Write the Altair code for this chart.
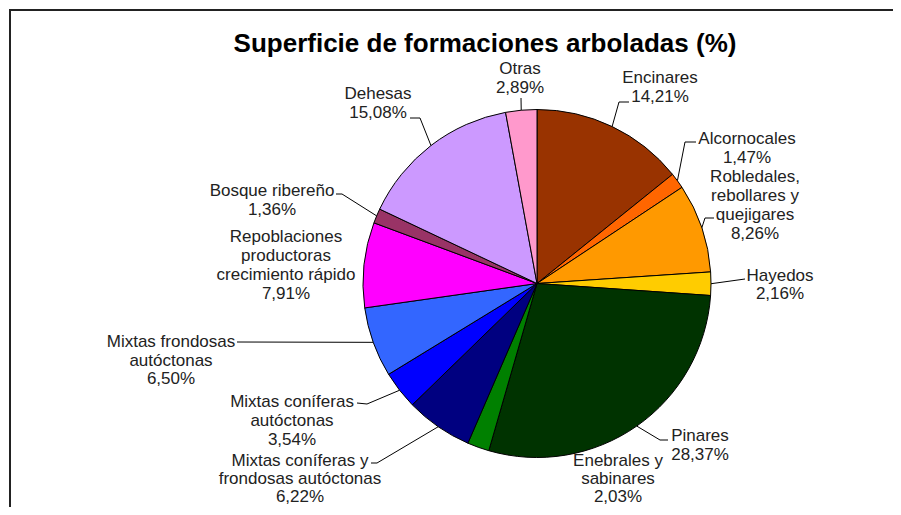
import altair as alt
import pandas as pd
import numpy as np

# ---- data ----
names = [
    "Encinares", "Alcornocales", "Robledales, rebollares y quejigares", "Hayedos",
    "Pinares", "Enebrales y sabinares", "Mixtas coníferas y frondosas autóctonas",
    "Mixtas coníferas autóctonas", "Mixtas frondosas autóctonas",
    "Repoblaciones productoras crecimiento rápido", "Bosque ribereño", "Dehesas", "Otras",
]
values = [14.21, 1.47, 8.26, 2.16, 28.37, 2.03, 6.22, 3.54, 6.50, 7.91, 1.36, 15.08, 2.89]
name_lines = [
    ["Encinares"], ["Alcornocales"], ["Robledales,", "rebollares y", "quejigares"], ["Hayedos"],
    ["Pinares"], ["Enebrales y", "sabinares"], ["Mixtas coníferas y", "frondosas autóctonas"],
    ["Mixtas coníferas", "autóctonas"], ["Mixtas frondosas", "autóctonas"],
    ["Repoblaciones", "productoras", "crecimiento rápido"], ["Bosque ribereño"], ["Dehesas"], ["Otras"],
]
title_text = "Superficie de formaciones arboladas (%)"

# ---- styles / layout ----
colors = ["#993300", "#FF6600", "#FF9900", "#FFCC00", "#003300", "#008000", "#000080",
          "#0000FF", "#3366FF", "#FF00FF", "#993366", "#CC99FF", "#FF99CC"]
CX, CY, R = 537, 283.5, 174
FONT = "Liberation Sans"
TITLE_POS = (485, 44)
# label block: centre x, first line centre y, line height (page pixels)
label_pos = [(660, 78, 19), (747, 139, 19), (755, 177, 19), (780, 276, 18), (700, 436, 19),
             (618, 461, 18), (300, 461, 18), (292, 402, 19), (171, 342, 18.5), (286, 237, 19),
             (272, 191, 19), (378, 94, 19), (520, 69, 19)]
# leader line points after the slice edge point
leader_pts = [[(619, 102), (629, 102)], [(685, 142), (696, 142)], [(705, 218), (714, 218)],
              [(745, 279)], [(660, 440), (668, 440)], None,
              [(377, 463), (371, 463)], [(367, 404), (357, 403)], [(237, 342)], None,
              [(342, 194), (336, 194)], [(420, 118), (410, 118)], [(521, 98)]]

W, H = 885, 499
xs = alt.Scale(domain=[8, 8 + W], nice=False, zero=False)
ys = alt.Scale(domain=[8, 8 + H], nice=False, zero=False, reverse=True)

pie_df = pd.DataFrame({"name": names, "value": values, "idx": range(len(names)),
                       "cx": CX, "cy": CY})

# label rows
rows = []
for i, (nm, v) in enumerate(zip(names, values)):
    lines = name_lines[i] + [f"{v:.2f}".replace(".", ",") + "%"]
    cx, y0, lh = label_pos[i]
    for j, t in enumerate(lines):
        rows.append({"name": nm, "text": t, "x": cx, "y": y0 + j * lh})
lab_df = pd.DataFrame(rows)

# leader lines from slice mid-angle
cum = np.cumsum([0] + values[:-1])
lrows = []
for i, (nm, v) in enumerate(zip(names, values)):
    if leader_pts[i] is None:
        continue
    ang = (cum[i] + v / 2) / 100 * 2 * np.pi
    pts = [(CX + R * np.sin(ang), CY - R * np.cos(ang))] + leader_pts[i]
    for k, (px, py) in enumerate(pts):
        lrows.append({"name": nm, "seq": k, "x": float(px), "y": float(py)})
lead_df = pd.DataFrame(lrows)

border_df = pd.DataFrame({"x": [10], "x2": [1000], "y": [10], "y2": [800]})
border = alt.Chart(border_df).mark_rect(
    fillOpacity=0, stroke="#222222", strokeWidth=2
).encode(
    x=alt.X("x:Q", scale=xs, axis=None),
    x2="x2:Q",
    y=alt.Y("y:Q", scale=ys, axis=None),
    y2="y2:Q",
)

title = alt.Chart(pd.DataFrame({"t": [title_text], "x": [TITLE_POS[0]], "y": [TITLE_POS[1]]})).mark_text(
    font=FONT, fontSize=26, fontWeight="bold", color="black", align="center", baseline="middle"
).encode(
    x=alt.X("x:Q", scale=xs, axis=None),
    y=alt.Y("y:Q", scale=ys, axis=None),
    text="t:N",
)

arcs = alt.Chart(pie_df).mark_arc(radius=R, stroke="black", strokeWidth=1).encode(
    theta=alt.Theta("value:Q", stack=True),
    order=alt.Order("idx:Q"),
    color=alt.Color("name:N", scale=alt.Scale(domain=names, range=colors), legend=None),
    x=alt.X("cx:Q", scale=xs, axis=None),
    y=alt.Y("cy:Q", scale=ys, axis=None),
)

leaders = alt.Chart(lead_df).mark_line(color="black", strokeWidth=1).encode(
    x=alt.X("x:Q", scale=xs, axis=None),
    y=alt.Y("y:Q", scale=ys, axis=None),
    detail="name:N",
    order="seq:Q",
)

labels = alt.Chart(lab_df).mark_text(
    font=FONT, fontSize=17, color="#222222", align="center", baseline="middle"
).encode(
    x=alt.X("x:Q", scale=xs, axis=None),
    y=alt.Y("y:Q", scale=ys, axis=None),
    text="text:N",
)

chart = alt.layer(border, title, arcs, leaders, labels).properties(
    width=W, height=H, padding=0, autosize="none", background="white",
).configure_view(stroke=None)

chart.save("out.html", embed_options={"renderer": "svg", "actions": False})
